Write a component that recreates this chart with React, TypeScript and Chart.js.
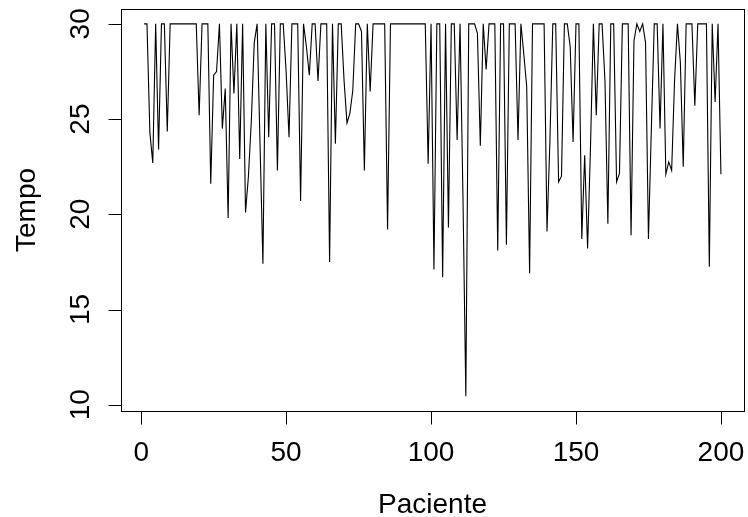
import React, { useEffect, useRef } from "react";
import { Chart, registerables } from "chart.js";

Chart.register(...registerables);

const tempo: number[] = [
  30, 30, 24.3, 22.7, 30, 23.4, 30, 30, 24.35, 30,
  30, 30, 30, 30, 30, 30, 30, 30, 30, 25.2,
  30, 30, 30, 21.6, 27.3, 27.5, 30, 24.5, 26.6, 19.8,
  30, 26.35, 30, 22.9, 30, 20.1, 22.0, 24.9, 29.0, 30,
  23.7, 17.4, 30, 24.05, 30, 30, 22.3, 30, 30, 27.5,
  24.05, 30, 30, 30, 20.7, 30, 28.8, 27.3, 30, 30,
  27.0, 30, 30, 30, 17.5, 30, 23.7, 30, 30, 27.0,
  24.8, 25.3, 26.5, 30, 30, 29.6, 22.3, 30, 26.45, 30,
  30, 30, 30, 30, 19.2, 30, 30, 30, 30, 30,
  30, 30, 30, 30, 30, 30, 30, 30, 22.65, 30,
  17.1, 30, 30, 16.7, 30, 19.3, 30, 30, 23.9, 30,
  21, 10.45, 30, 30, 30, 29.5, 23.6, 30, 27.6, 30,
  30, 30, 18.1, 30, 30, 18.4, 30, 30, 30, 23.9,
  30, 28.4, 26.7, 16.9, 30, 30, 30, 30, 30, 19.1,
  23.8, 30, 30, 21.7, 22.0, 30, 30, 28.8, 23.8, 30,
  30, 18.7, 23.1, 18.2, 23.5, 30, 25.2, 30, 30, 27.0,
  19.5, 30, 30, 21.7, 22.15, 30, 30, 30, 18.9, 29.1,
  30, 29.6, 30, 29.0, 18.7, 24.5, 30, 30, 24.5, 30,
  22.1, 22.75, 22.3, 27.0, 30, 28, 22.5, 30, 30, 30,
  25.7, 30, 30, 30, 30, 17.25, 30, 25.9, 30, 22.1,
];

const paciente: number[] = tempo.map((_, i) => i + 1);

const xTicks: number[] = [0, 50, 100, 150, 200];
const yTicks: number[] = [10, 15, 20, 25, 30];
const xTitle = "Paciente";
const yTitle = "Tempo";

const FONT = '28px "Liberation Sans", Arial, sans-serif';

const rAxesPlugin = {
  id: "rAxes",
  afterDraw(chart: any) {
    const ctx = chart.ctx as CanvasRenderingContext2D;
    const area = chart.chartArea;
    const xs = chart.scales.x;
    const ys = chart.scales.y;
    ctx.save();
    ctx.strokeStyle = "#000";
    ctx.fillStyle = "#000";
    ctx.lineWidth = 1;
    // box
    ctx.strokeRect(
      Math.round(area.left) + 0.5,
      Math.round(area.top) + 0.5,
      Math.round(area.right - area.left),
      Math.round(area.bottom - area.top)
    );
    const tick = 13;
    ctx.font = FONT;
    // x axis
    const bottom = Math.round(area.bottom) + 0.5;
    ctx.beginPath();
    ctx.moveTo(xs.getPixelForValue(xTicks[0]), bottom);
    ctx.lineTo(xs.getPixelForValue(xTicks[xTicks.length - 1]), bottom);
    for (const t of xTicks) {
      const px = Math.round(xs.getPixelForValue(t)) + 0.5;
      ctx.moveTo(px, bottom);
      ctx.lineTo(px, bottom + tick);
    }
    ctx.stroke();
    ctx.textAlign = "center";
    ctx.textBaseline = "alphabetic";
    for (const t of xTicks) {
      const px = xs.getPixelForValue(t);
      ctx.fillText(String(t), px, bottom + 49);
    }
    // y axis
    const left = Math.round(area.left) + 0.5;
    ctx.beginPath();
    ctx.moveTo(left, ys.getPixelForValue(yTicks[0]));
    ctx.lineTo(left, ys.getPixelForValue(yTicks[yTicks.length - 1]));
    for (const t of yTicks) {
      const py = Math.round(ys.getPixelForValue(t)) + 0.5;
      ctx.moveTo(left, py);
      ctx.lineTo(left - tick, py);
    }
    ctx.stroke();
    for (const t of yTicks) {
      const py = ys.getPixelForValue(t);
      ctx.save();
      ctx.translate(left - 33, py);
      ctx.rotate(-Math.PI / 2);
      ctx.textAlign = "center";
      ctx.fillText(String(t), 0, 0);
      ctx.restore();
    }
    // titles
    ctx.textAlign = "center";
    ctx.fillText(xTitle, (area.left + area.right) / 2, 513);
    ctx.save();
    ctx.translate(35, (area.top + area.bottom) / 2);
    ctx.rotate(-Math.PI / 2);
    ctx.fillText(yTitle, 0, 0);
    ctx.restore();
    ctx.restore();
  },
};

export default function App() {
  const ref = useRef<HTMLCanvasElement | null>(null);
  useEffect(() => {
    if (!ref.current) return;
    const chart = new Chart(ref.current, {
      type: "line",
      data: {
        datasets: [
          {
            data: paciente.map((x, i) => ({ x, y: tempo[i] })),
            borderColor: "#000",
            borderWidth: 1.1,
            pointRadius: 0,
            tension: 0,
            fill: false,
          },
        ],
      },
      options: {
        responsive: false,
        animation: false,
        devicePixelRatio: 1,
        layout: { padding: { left: 121, right: 4, top: 9, bottom: 106 } },
        plugins: {
          legend: { display: false },
          tooltip: { enabled: false },
        },
        scales: {
          x: { type: "linear", display: false, min: -6.96, max: 207.96 },
          y: { type: "linear", display: false, min: 9.67, max: 30.78 },
        },
      },
      plugins: [rAxesPlugin],
    });
    return () => chart.destroy();
  }, []);
  return (
    <div style={{ position: "absolute", left: 0, top: 0, width: 748, height: 517, background: "#fff" }}>
      <canvas ref={ref} width={748} height={517} style={{ display: "block" }} />
    </div>
  );
}
